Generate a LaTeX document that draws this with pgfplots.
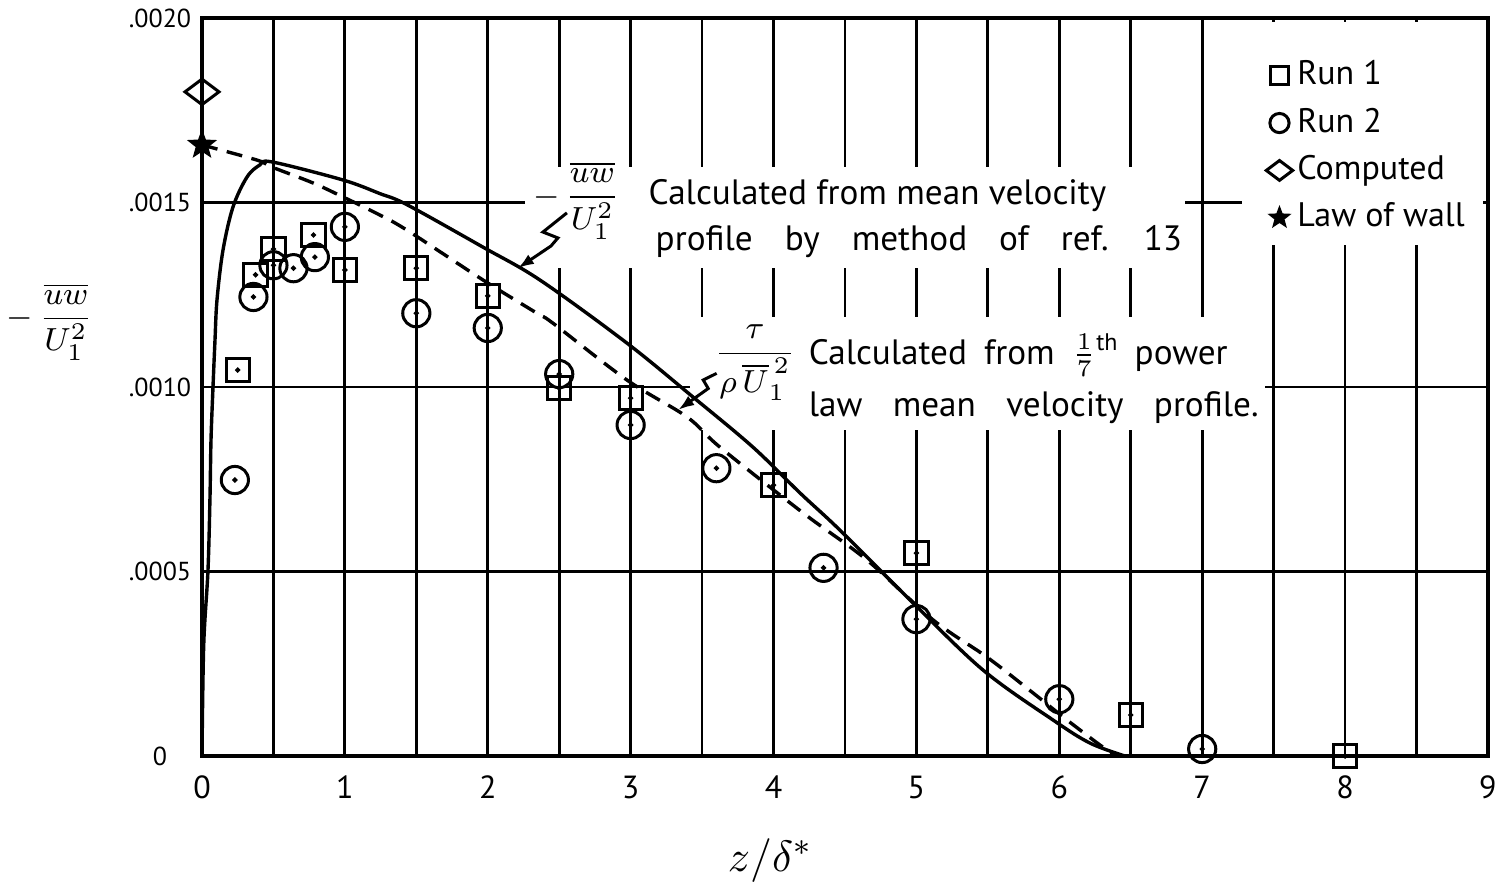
\documentclass[border=0pt]{standalone}
\usepackage{amsmath}
\usepackage{pgfplots}
\pgfplotsset{compat=1.18}
\usepackage{pgfplotstable}
\usepackage{fontspec}
\setmainfont{PT Sans}
\usetikzlibrary{arrows.meta, plotmarks}

% filled five-pointed star mark
\pgfdeclareplotmark{fstar}{%
  \pgfpathmoveto{\pgfpointpolar{90}{\pgfplotmarksize}}%
  \pgfpathlineto{\pgfpointpolar{126}{0.42\pgfplotmarksize}}%
  \pgfpathlineto{\pgfpointpolar{162}{\pgfplotmarksize}}%
  \pgfpathlineto{\pgfpointpolar{198}{0.42\pgfplotmarksize}}%
  \pgfpathlineto{\pgfpointpolar{234}{\pgfplotmarksize}}%
  \pgfpathlineto{\pgfpointpolar{270}{0.42\pgfplotmarksize}}%
  \pgfpathlineto{\pgfpointpolar{306}{\pgfplotmarksize}}%
  \pgfpathlineto{\pgfpointpolar{342}{0.42\pgfplotmarksize}}%
  \pgfpathlineto{\pgfpointpolar{18}{\pgfplotmarksize}}%
  \pgfpathlineto{\pgfpointpolar{54}{0.42\pgfplotmarksize}}%
  \pgfpathclose
  \pgfusepathqfillstroke}

% Run 1 (squares)
\pgfplotstableread{
x y
0.25  0.001046
0.375 0.001304
0.5   0.001374
0.78  0.001412
1.0   0.001317
1.5   0.001322
2.0   0.001247
2.5   0.000997
3.0   0.000970
4.0   0.000734
5.0   0.000550
6.5   0.000111
8.0   0.000000
}\runone

% Run 2 (circles)
\pgfplotstableread{
x y
0.23  0.000748
0.36  0.001244
0.5   0.001330
0.64  0.001322
0.79  0.001352
1.0   0.001434
1.5   0.001200
2.0   0.001160
2.5   0.001035
3.0   0.000897
3.6   0.000780
4.35  0.000510
5.0   0.000371
6.0   0.000154
7.0   0.000019
}\runtwo

% -uw/U1^2 from the mean velocity profile (method of ref. 13)
\pgfplotstableread{
x y
0.0    0.0
0.012  0.00030
0.042  0.000504
0.056  0.000702
0.063  0.000856
0.077  0.001000
0.091  0.001127
0.105  0.001236
0.147  0.001371
0.217  0.001488
0.315  0.001569
0.406  0.001602
0.49   0.001610
0.987  0.001561
1.246  0.001524
1.435  0.001494
1.967  0.001379
2.365  0.001290
2.974  0.001119
3.436  0.000973
3.856  0.000837
4.185  0.000713
4.465  0.000612
4.955  0.000423
5.466  0.000233
5.956  0.0000976
6.215  0.000035
6.46   0.0
}\uwcurve

% tau/(rho U1^2) from the 1/7th power law profile
\pgfplotstableread{
x y
0.0    0.001656
0.385  0.001615
0.49   0.001596
0.777  0.001553
0.987  0.001515
1.225  0.001470
1.435  0.001425
1.967  0.001290
2.344  0.001200
2.456  0.001173
2.974  0.001019
3.394  0.000919
3.625  0.000837
4.206  0.000659
4.654  0.000531
5.116  0.000369
5.494  0.000268
5.816  0.000171
6.054  0.0000976
6.334  0.0000163
6.43   0.0
}\taucurve

\newcommand{\annfont}{\fontsize{8.8}{11}\selectfont}

\begin{document}
\begin{tikzpicture}
\useasboundingbox (-50.5pt,-34.25pt) rectangle (324pt,189pt);
\begin{axis}[
  at={(0pt,0pt)}, anchor=south west,
  scale only axis, width=321.5pt, height=184.5pt,
  xmin=0, xmax=9, ymin=0, ymax=0.002,
  clip=false,
  axis line style={line width=1pt},
  xtick={0,...,9},
  minor xtick={0.5,1.5,...,8.5},
  ytick={0,0.0005,0.001,0.0015,0.002},
  yticklabels={0,.0005,.0010,.0015,.0020},
  scaled y ticks=false,
  grid=both,
  major grid style={line width=0.7pt, black},
  minor grid style={line width=0.7pt, black},
  major tick length=0pt, minor tick length=0pt,
  /pgf/number format/assume math mode=true,
  xticklabel style={anchor=center, yshift=-7.75pt, font=\fontsize{8}{9}\selectfont},
  yticklabel style={anchor=center, xshift=-10.5pt, font=\fontsize{6.5}{7}\selectfont},
  legend style={at={(0.827,0.950)}, anchor=north west, draw=none, fill=none,
    font=\fontsize{8.5}{10}\selectfont, row sep=1.9pt, inner sep=0pt,
    nodes={inner sep=1.2pt}},
  legend cell align=left,
  legend image code/.code={\draw[#1] plot coordinates {(0pt,0pt)};},
]
% white paper behind the labels and the legend
\fill[white] (axis cs:2.26,0.001596) rectangle (axis cs:6.88,0.001322);
\fill[white] (axis cs:3.415,0.001190) rectangle (axis cs:7.44,0.000883);
\fill[white] (axis cs:7.278,0.00199) rectangle (axis cs:8.965,0.001385);

% curves
\addplot[forget plot, black, line width=0.85pt, smooth, tension=0.55] table {\uwcurve};
\addplot[forget plot, black, line width=0.85pt, smooth, tension=0.55,
  dash pattern=on 4pt off 2.4pt] table {\taucurve};

% measured points
\addplot[forget plot, only marks, mark=o, mark size=3.4pt,
  mark options={fill=white, line width=0.75pt}] table {\runtwo};
\addplot[forget plot, only marks, mark=*, mark size=0.45pt] table {\runtwo};
\addplot[forget plot, only marks, mark=square, mark size=2.9pt,
  mark options={fill=white, line width=0.75pt}] table {\runone};
\addplot[forget plot, only marks, mark=*, mark size=0.45pt] table {\runone};

% values at the wall
\addplot[forget plot, only marks, mark=diamond, mark size=4.25pt,
  mark options={rotate=90, fill=white, line width=0.75pt}] coordinates {(0,0.0018)};
\addplot[forget plot, only marks, mark=fstar, mark size=3.4pt,
  mark options={fill=black, line width=0.4pt}] coordinates {(0,0.001656)};

% legend
\addlegendimage{only marks, mark=square, mark size=2.3pt, mark options={line width=0.75pt}}
\addlegendentry{Run 1}
\addlegendimage{only marks, mark=o, mark size=2.4pt, mark options={line width=0.75pt}}
\addlegendentry{Run 2}
\addlegendimage{only marks, mark=diamond, mark size=3.3pt, mark options={rotate=90, line width=0.75pt}}
\addlegendentry{Computed}
\addlegendimage{only marks, mark=fstar, mark size=2.6pt, mark options={fill=black, line width=0.4pt}}
\addlegendentry{Law of wall}

% annotation: -uw/U1^2 curve
\node[font=\fontsize{8}{10}\selectfont] at (axis cs:2.62,0.001505)
  {$-\,\dfrac{\overline{uw}}{U_1^{2}}$};
\node[anchor=west, inner sep=0pt, font=\annfont] at (axis cs:3.121,0.00152)
  {Calculated from mean velocity};
\node[anchor=west, inner sep=0pt, font=\annfont] at (axis cs:3.17,0.001393)
  {\spaceskip=8pt\relax profile by method of ref. 13};
\draw[line width=0.75pt, -{Latex[length=4pt,width=2.8pt]}]
  (axis cs:2.554,0.001472) -- (axis cs:2.386,0.00142) -- (axis cs:2.491,0.001404)
  -- (axis cs:2.442,0.001382) -- (axis cs:2.211,0.001322);

% annotation: tau/(rho U1^2) curve
\node[font=\fontsize{8.2}{10}\selectfont] at (axis cs:3.87,0.001065)
  {$\dfrac{\tau}{\rho\,\overline{U}_1^{\,2}}$};
\node[anchor=west, inner sep=0pt, font=\annfont] at (axis cs:4.241,0.001087)
  {\spaceskip=4.3pt\relax Calculated from $\frac{1}{7}$\raisebox{0.8ex}{\fontsize{6}{7}\selectfont th} power};
\node[anchor=west, inner sep=0pt, font=\annfont] at (axis cs:4.241,0.000943)
  {\spaceskip=7.6pt\relax law mean velocity profile.};
\draw[line width=0.75pt, -{Latex[length=4pt,width=2.8pt]}]
  (axis cs:3.602,0.001037) -- (axis cs:3.508,0.001019) -- (axis cs:3.543,0.000996)
  -- (axis cs:3.333,0.000938);

% axis titles
\node[font=\fontsize{8.5}{10}\selectfont] at (axis cs:-1.064,0.001176)
  {$-\,\dfrac{\overline{uw}}{U_1^{2}}$};
\node[font=\fontsize{11}{13}\selectfont] at (axis cs:3.975,-0.000282) {$z/\delta^{*}$};
\end{axis}
\end{tikzpicture}
\end{document}
